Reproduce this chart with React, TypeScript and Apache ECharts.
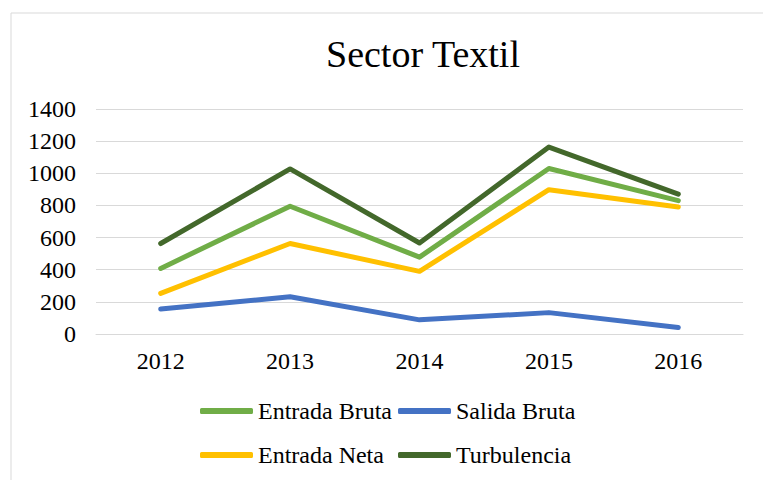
import React, { useEffect, useRef } from "react";
import * as echarts from "echarts";

const years = ["2012", "2013", "2014", "2015", "2016"];
const yTicks = [0, 200, 400, 600, 800, 1000, 1200, 1400];
const entradaBruta = [408, 795, 478, 1030, 830];
const salidaBruta = [155, 232, 88, 133, 40];
const entradaNeta = [253, 563, 390, 898, 790];
const turbulencia = [563, 1027, 566, 1163, 870];

const FONT = '"Liberation Serif", "Times New Roman", serif';

export default function App() {
  const ref = useRef<HTMLDivElement>(null);
  useEffect(() => {
    if (!ref.current) return;
    const chart = echarts.init(ref.current, null, { renderer: "svg" });
    const mkSeries = (name: string, data: number[], color: string) => ({
      name,
      type: "line",
      data,
      symbol: "none",
      color,
      lineStyle: { color, width: 5, cap: "round", join: "round" },
    });
    const mkLegend = (name: string, left: number, top: number) => ({
      data: [name],
      left,
      top,
      icon: "roundRect",
      itemWidth: 53,
      itemHeight: 6,
      padding: 0,
      textStyle: { fontFamily: FONT, fontSize: 24, color: "#000" },
      selectedMode: false,
    });
    chart.setOption({
      animation: false,
      backgroundColor: "#fff",
      graphic: [
        {
          type: "rect",
          shape: { x: 11, y: 13, width: 800, height: 500 },
          style: { fill: "none", stroke: "#d9d9d9", lineWidth: 1 },
          silent: true,
        },
      ],
      title: {
        text: "Sector Textil",
        left: 423,
        textAlign: "center",
        top: 35,
        padding: 0,
        textStyle: { fontFamily: FONT, fontSize: 38, fontWeight: "normal", color: "#000" },
      },
      legend: [
        mkLegend("Entrada Bruta", 200, 399),
        mkLegend("Salida Bruta", 398, 399),
        mkLegend("Entrada Neta", 200, 443),
        mkLegend("Turbulencia", 398, 443),
      ],
      grid: { left: 96, right: 20, top: 109, bottom: 146, containLabel: false },
      xAxis: {
        type: "category",
        data: years,
        boundaryGap: true,
        axisLine: { show: true, lineStyle: { color: "#d9d9d9", width: 1 } },
        axisTick: { show: false },
        axisLabel: { fontFamily: FONT, fontSize: 24, color: "#000", margin: 15 },
      },
      yAxis: {
        type: "value",
        min: yTicks[0],
        max: yTicks[yTicks.length - 1],
        interval: yTicks[1] - yTicks[0],
        axisLine: { show: false },
        axisTick: { show: false },
        splitLine: { lineStyle: { color: "#d9d9d9", width: 1 } },
        axisLabel: {
          fontFamily: FONT,
          fontSize: 24,
          color: "#000",
          margin: 20,
          formatter: (v: number) => String(v),
        },
      },
      series: [
        mkSeries("Entrada Bruta", entradaBruta, "#70AD47"),
        mkSeries("Salida Bruta", salidaBruta, "#4472C4"),
        mkSeries("Entrada Neta", entradaNeta, "#FFC000"),
        mkSeries("Turbulencia", turbulencia, "#43682B"),
      ],
    });
    return () => chart.dispose();
  }, []);
  return (
    <div
      ref={ref}
      style={{ position: "fixed", left: 0, top: 0, width: 763, height: 480 }}
    />
  );
}
